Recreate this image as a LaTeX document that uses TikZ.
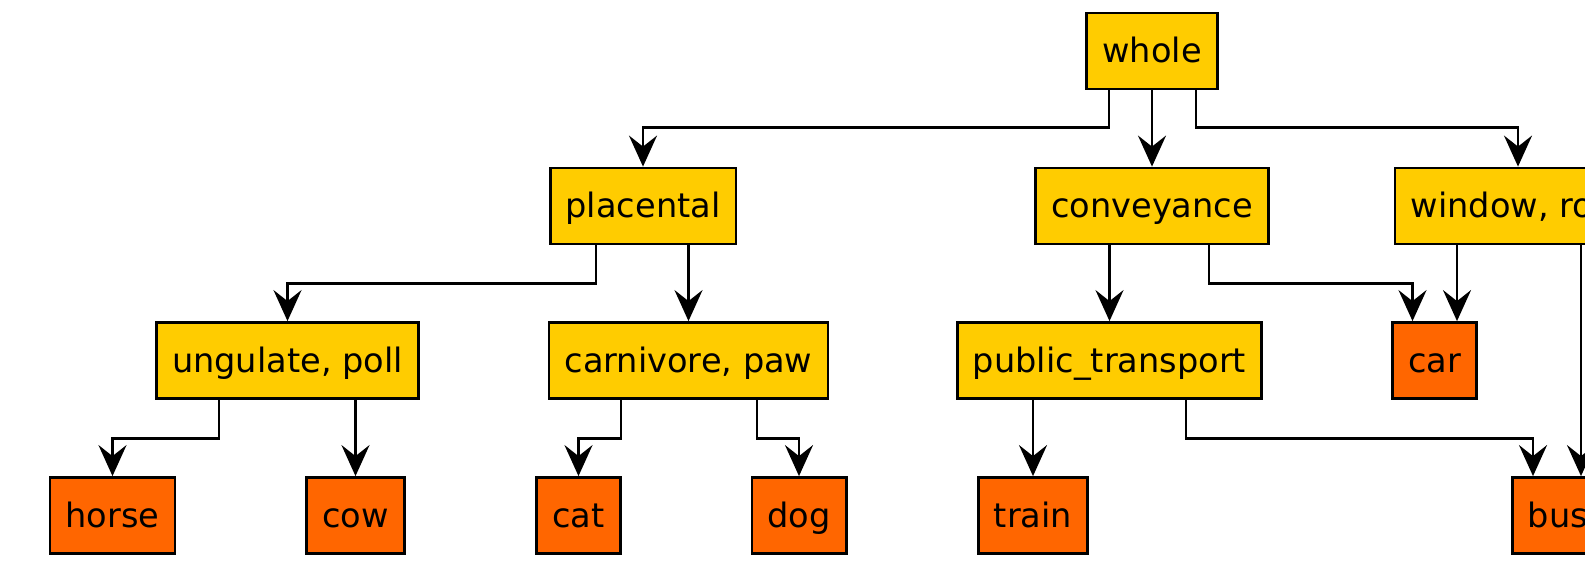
\documentclass[tikz,border=0pt]{standalone}
\usepackage{fontspec}
\setmainfont{DejaVu Sans}
\usetikzlibrary{arrows.meta}
\definecolor{midfill}{HTML}{FFCC00}
\definecolor{leaffill}{HTML}{FF6600}
\begin{document}
\begin{tikzpicture}[x=1pt,y=-1pt,
  box/.style={draw=black, line width=2.8pt, minimum height=76pt, inner xsep=15.5pt,
    inner ysep=0pt, text height=23pt, text depth=0pt, anchor=center,
    font=\fontsize{33.6}{40}\selectfont},
  mid/.style={box, fill=midfill},
  leafbox/.style={box, fill=leaffill},
  arr/.style={-{Stealth[length=31pt 0 0,width=28pt 0 0,inset=11pt 0]}, line width=2.6pt}]
\useasboundingbox (0,0) rectangle (1585,567);

% nodes
\node[mid] (whole) at (1152,51) {whole};
\node[mid] (placental) at (643,206) {placental};
\node[mid] (conveyance) at (1152,206) {conveyance};
\node[mid] (window) at (1518,206) {window, roof};
\node[mid] (ungulate) at (287.5,360.5) {ungulate, poll};
\node[mid] (carnivore) at (688.5,360.5) {carnivore, paw};
\node[mid] (public) at (1109.5,360.5) {public\_transport};
\node[leafbox] (car) at (1434.5,360.5) {car};
\node[leafbox] (horse) at (112.5,515.5) {horse};
\node[leafbox] (cow) at (355.5,515.5) {cow};
\node[leafbox] (cat) at (578.5,515.5) {cat};
\node[leafbox] (dog) at (799,515.5) {dog};
\node[leafbox] (train) at (1033,515.5) {train};
\node[leafbox] (bus) at (1558,515.5) {bus};

% connectors
\draw[arr] ([xshift=-43pt]whole.south) -- ++(0,37) -| (placental.north);
\draw[arr] (whole.south) -- (conveyance.north);
\draw[arr] ([xshift=44pt]whole.south) -- ++(0,37) -| (window.north);
\draw[arr] ([xshift=-47pt]placental.south) -- ++(0,38) -| (ungulate.north);
\draw[arr] (placental.south -| carnivore.north) -- (carnivore.north);
\draw[arr] ([xshift=-68.5pt]ungulate.south) -- ++(0,38.5) -| (horse.north);
\draw[arr] (ungulate.south -| cow.north) -- (cow.north);
\draw[arr] ([xshift=-67.5pt]carnivore.south) -- ++(0,38.5) -| (cat.north);
\draw[arr] ([xshift=68.5pt]carnivore.south) -- ++(0,38.5) -| (dog.north);
\draw[arr] (conveyance.south -| public.north) -- (public.north);
\draw[arr] ([xshift=57pt]conveyance.south) -- ++(0,38) -| ([xshift=-22pt]car.north);
\draw[arr] ([xshift=22.5pt]car.north |- window.south) -- ([xshift=22.5pt]car.north);
\draw[arr] (public.south -| train.north) -- (train.north);
\draw[arr] ([xshift=76.5pt]public.south) -- ++(0,38.5) -| ([xshift=-25pt]bus.north);
\draw[arr] ([xshift=23pt]bus.north |- window.south) -- ([xshift=23pt]bus.north);
\end{tikzpicture}
\end{document}
